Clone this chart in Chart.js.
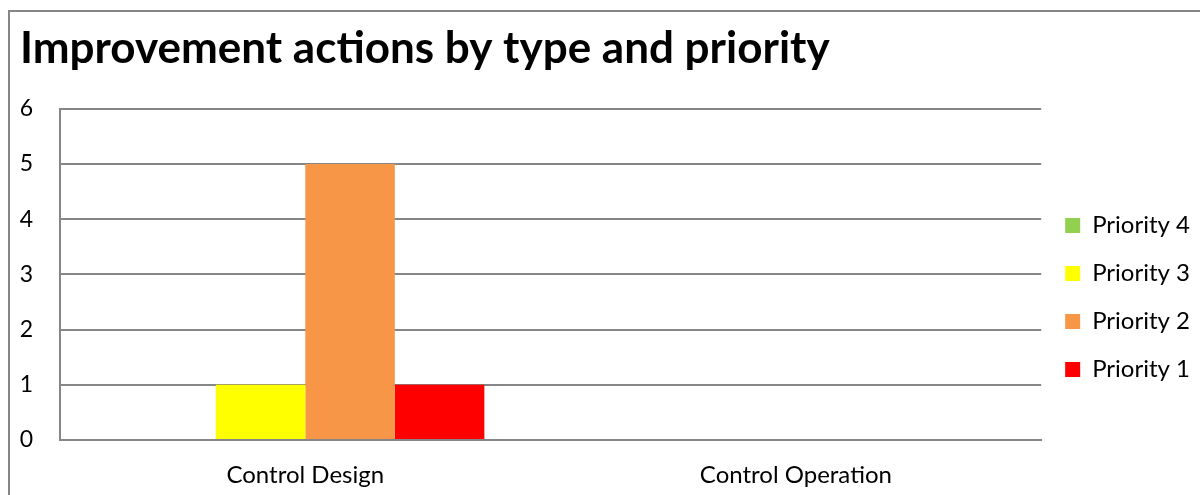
<!DOCTYPE html>
<html>
<head>
<meta charset="utf-8">
<script src="https://cdn.jsdelivr.net/npm/chart.js@4"></script>
<style>
  body { margin: 0; background: #fff; }
  #frame { position: absolute; left: 8px; top: 10px; width: 1300px; height: 600px;
           border-left: 2px solid #868686; border-top: 2px solid #868686; }
  #wrap { position: absolute; left: 0; top: 0; width: 1200px; height: 495px; }
</style>
</head>
<body>
<div id="frame"></div>
<div id="wrap"><canvas id="myChart"></canvas></div>
<script>
// data
const categories = ['Control Design', 'Control Operation'];
const seriesNames = ['Priority 4', 'Priority 3', 'Priority 2', 'Priority 1'];
const priority4 = [0, 0];
const priority3 = [1, 0];
const priority2 = [5, 0];
const priority1 = [1, 0];
const colors = ['#92D050', '#FFFF00', '#F79646', '#FF0000'];
const yTicks = [0, 1, 2, 3, 4, 5, 6];

const values = [priority4, priority3, priority2, priority1];
const grid = '#868686';

const ctx = document.getElementById('myChart');
const myChart = new Chart(ctx, {
  type: 'bar',
  data: {
    labels: categories,
    datasets: seriesNames.map((name, i) => ({
      label: name,
      data: values[i],
      backgroundColor: colors[i],
      borderWidth: 0,
      barPercentage: 1,
      categoryPercentage: 0.73
    }))
  },
  options: {
    responsive: true,
    maintainAspectRatio: false,
    animation: false,
    layout: { padding: { left: 20, top: 10, right: 0, bottom: 0 } },
    plugins: {
      title: {
        display: true,
        text: 'Improvement actions by type and priority',
        align: 'start',
        color: '#000',
        font: { family: 'Lato', size: 44, weight: 'bold' },
        padding: { top: 12, bottom: 34 }
      },
      legend: {
        position: 'right',
        title: { display: true, text: ' ', font: { size: 20 }, padding: { top: 33, bottom: 33 } },
        labels: {
          color: '#000',
          font: { family: 'Lato', size: 24 },
          boxWidth: 15,
          boxHeight: 15,
          padding: 24
        }
      },
      tooltip: { enabled: false }
    },
    scales: {
      y: {
        min: yTicks[0],
        max: yTicks[yTicks.length - 1],
        afterFit: (scale) => { scale.width = 40; },
        ticks: { stepSize: 1, color: '#000', font: { family: 'Lato', size: 23 }, padding: 27 },
        grid: { color: grid, lineWidth: 2, drawTicks: false },
        border: { display: true, color: grid, width: 2 }
      },
      x: {
        afterFit: (scale) => { scale.height = 55; },
        ticks: { color: '#000', font: { family: 'Lato', size: 24 }, padding: 21 },
        grid: { display: false, drawTicks: false },
        border: { display: true, color: grid, width: 2 }
      }
    }
  }
});
</script>
</body>
</html>
